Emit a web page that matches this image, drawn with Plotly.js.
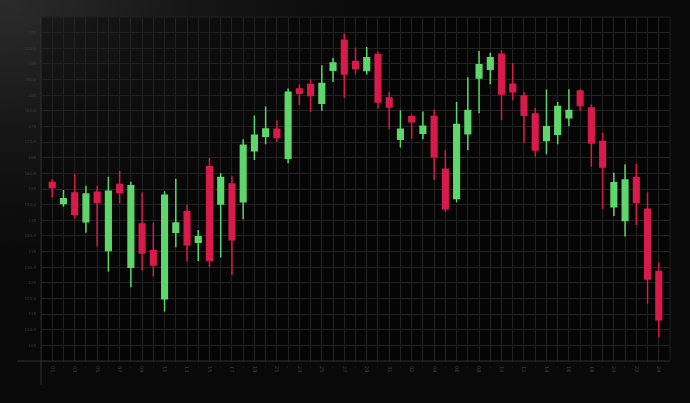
<!DOCTYPE html>
<html>
<head>
<meta charset="utf-8">
<script src="https://cdn.plot.ly/plotly-3.0.1.min.js"></script>
<style>
  html, body { margin: 0; padding: 0; width: 690px; height: 403px; overflow: hidden;
    background-color: #090909;
    background-image: radial-gradient(ellipse 55% 65% at 0% 0%, #2c2c2c 0%, #161616 50%, #090909 100%); }
  #chart { width: 690px; height: 403px; }
</style>
</head>
<body>
<div id="chart"></div>
<script>
// Trading days (categories)
const days = [
  "03/01","03/02","03/03","03/04","03/05","03/06","03/07","03/08","03/09","03/10",
  "03/11","03/12","03/13","03/14","03/15","03/16","03/17","03/18","03/19","03/20",
  "03/21","03/22","03/23","03/24","03/25","03/26","03/27","03/28","03/29","03/30",
  "03/31","04/01","04/02","04/03","04/04","04/05","04/06","04/07","04/08","04/09",
  "04/10","04/11","04/12","04/13","04/14","04/15","04/16","04/17","04/18","04/19",
  "04/20","04/21","04/22","04/23","04/24"
];
const openP = [
  157.1,150.4,153.7,144.5,154.0,135.3,156.4,130.0,143.8,135.3,
  119.9,141.2,147.7,138.0,162.1,150.2,156.6,150.9,167.2,171.9,
  174.1,164.8,187.0,188.4,182.4,193.0,202.6,195.8,192.9,198.0,
  184.1,170.9,178.1,172.8,178.2,161.3,152.0,172.7,190.5,193.3,
  198.1,188.5,184.7,179.0,170.5,172.5,177.8,186.3,180.9,170.2,
  149.3,144.9,158.7,148.5,128.6
];
const highP = [
  158.1,154.7,159.7,156.0,156.0,158.9,160.8,157.3,153.9,144.2,
  154.3,158.3,149.9,141.9,164.9,160.0,159.1,170.9,178.5,181.4,
  177.0,187.1,188.5,190.0,194.6,197.0,204.7,200.2,200.4,199.0,
  186.0,180.2,178.8,179.8,180.4,167.4,182.8,190.7,199.1,198.6,
  199.4,195.2,186.1,181.0,186.8,182.8,186.9,186.9,182.1,173.0,
  160.2,162.9,163.1,154.0,131.5
];
const lowP = [
  152.3,149.3,145.6,141.0,136.6,128.6,150.4,123.6,128.9,127.0,
  115.8,136.4,131.8,132.0,130.0,133.1,127.5,145.3,164.3,169.3,
  170.0,163.2,181.9,179.6,180.0,189.2,184.1,191.7,191.6,180.8,
  174.2,168.3,171.1,170.9,157.9,147.8,150.8,167.4,179.2,188.5,
  177.1,183.4,169.9,165.3,166.1,169.3,175.1,180.0,162.1,148.5,
  146.4,139.8,143.5,118.3,107.7
];
const closeP = [
  155.5,151.9,146.9,153.4,150.8,154.3,153.9,156.0,134.5,130.7,
  153.0,144.1,137.2,139.7,132.2,158.7,138.8,169.0,172.2,174.2,
  171.5,185.9,185.6,184.9,188.7,195.3,191.8,193.5,197.0,182.8,
  181.2,174.1,176.5,175.1,165.3,148.7,175.6,180.1,194.7,197.0,
  185.4,186.1,178.6,167.5,174.9,181.4,180.1,181.7,169.7,162.0,
  157.0,157.9,150.8,126.2,113.2
];
// Axis tick values / labels
const priceTicks = [100,105,110,115,120,125,130,135,140,145,150,155,160,165,170,175,180,185,190,195,200,205,210];
const priceLabels = priceTicks.map(v => (v === 100 || v === 210) ? "" : (v % 10 === 0 ? v.toFixed(1) : String(v)));
const dayLabels = days.map((d, i) => i % 2 === 0 ? d.slice(3) : "-");

const upColor = "#5fd66b";
const downColor = "#d91b4b";
const gridColor = "#222222";
const axisColor = "#303030";

const trace = {
  type: "candlestick",
  x: days,
  open: openP, high: highP, low: lowP, close: closeP,
  increasing: { line: { color: upColor, width: 1.5 }, fillcolor: upColor },
  decreasing: { line: { color: downColor, width: 1.5 }, fillcolor: downColor },
  whiskerwidth: 0,
  hoverinfo: "skip"
};

const layout = {
  width: 690, height: 403,
  margin: { l: 40.7, r: 20, t: 16.7, b: 41.7 },
  paper_bgcolor: "rgba(0,0,0,0)",
  plot_bgcolor: "rgba(0,0,0,0.35)",
  showlegend: false,
  boxgap: 0.5, boxgroupgap: 0,
  xaxis: {
    type: "category",
    range: [-1, days.length],
    rangeslider: { visible: false },
    tickvals: days, ticktext: dayLabels,
    tickangle: 90,
    tickfont: { family: "DejaVu Sans", size: 5, color: "#444444" },
    showgrid: true, gridcolor: gridColor, gridwidth: 1,
    showline: false, zeroline: false, ticks: "",
    ticklabelstandoff: 4,
    fixedrange: true
  },
  yaxis: {
    range: [100, 210],
    tickvals: priceTicks, ticktext: priceLabels,
    tickfont: { family: "DejaVu Sans", size: 4, color: "#3c3c3c" },
    showgrid: true, gridcolor: gridColor, gridwidth: 1,
    showline: false, zeroline: false, ticks: "",
    ticklabelstandoff: 4,
    fixedrange: true
  },
  shapes: [
    { type: "line", xref: "paper", yref: "paper", x0: -0.0377, x1: 1, y0: 0, y1: 0,
      line: { color: axisColor, width: 1 } },
    { type: "line", xref: "paper", yref: "paper", x0: 0, x1: 0, y0: -0.069, y1: 1,
      line: { color: axisColor, width: 1 } },
    { type: "line", xref: "paper", yref: "paper", x0: 1, x1: 1, y0: 0, y1: 1,
      line: { color: gridColor, width: 1 }, layer: "below" },
    { type: "line", xref: "paper", yref: "paper", x0: 0, x1: 1, y0: 1, y1: 1,
      line: { color: gridColor, width: 1 }, layer: "below" }
  ]
};

Plotly.newPlot("chart", [trace], layout, { displayModeBar: false, staticPlot: true });
</script>
</body>
</html>
